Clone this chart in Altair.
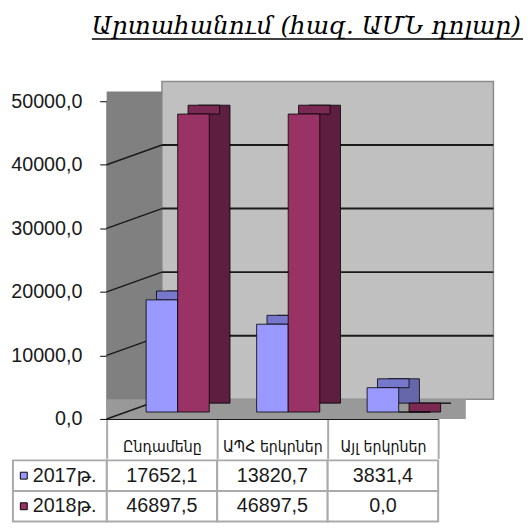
import altair as alt
import pandas as pd

# ---------------- data ----------------
title_text = "Արտահանում (հազ. ԱՄՆ դոլար)"
categories = ["Ընդամենը", "ԱՊՀ երկրներ", "Այլ երկրներ"]
series = ["2017թ.", "2018թ."]
values_2017 = [17652.1, 13820.7, 3831.4]
values_2018 = [46897.5, 46897.5, 0.0]
y_ticks = [0, 10000, 20000, 30000, 40000, 50000]

front_colors = ["#9999ff", "#993366"]
side_colors = ["#6666aa", "#5e1e40"]
top_colors = ["#7777cc", "#7a2952"]

rows = []
for s, vals in zip(series, [values_2017, values_2018]):
    for c, v in zip(categories, vals):
        rows.append({"cat": c, "series": s, "value": v,
                     "label": f"{v:.1f}".replace(".", ",")})
df = pd.DataFrame(rows)
ticks_df = pd.DataFrame({"v": y_ticks})
one = pd.DataFrame({"k": [0]})
series_df = pd.DataFrame({"series": series})

W, H = 336, 322
WALL_DX, WALL_DY = 56, 20
BAR_W = 32
BAR_DX, BAR_DY = 21, 9
BASE_DX, BASE_DY = 0, -7

LABEL_FONT = "Liberation Sans, DejaVu Sans"

y_scale = alt.Scale(domain=[0, 50000], nice=False, zero=True)
y_axis = alt.Axis(values=y_ticks,
                  labelExpr="replace(format(datum.value, '.1f'), '.', ',')",
                  title=None, grid=False, domainColor="black", domainWidth=1,
                  tickColor="black", tickSize=7, labelPadding=18,
                  labelFont=LABEL_FONT, labelFontSize=20, labelColor="#1a1a1a")
x_scale = alt.Scale(domain=categories, paddingInner=0, paddingOuter=0)
x_axis = alt.Axis(title=None, orient="bottom", labelAngle=0,
                  labelFont="DejaVu Sans Condensed, DejaVu Sans", labelFontSize=16,
                  labelColor="#111111",
                  labelPadding=-20, tickBand="extent", tickSize=40,
                  tickColor="#aaaaaa", tickWidth=2, domainColor="black",
                  domainWidth=1, labelLimit=200)

def yq(field):
    return alt.Y(field, type="quantitative", scale=y_scale, axis=y_axis)

# ---------------- 3D-like walls ----------------
back_wall = alt.Chart(one).mark_rect(fill="#c0c0c0", stroke="#8c8c8c", strokeWidth=1.5).encode(
    x=alt.value(WALL_DX), x2=alt.value(W + WALL_DX),
    y=alt.value(-WALL_DY), y2=alt.value(H - WALL_DY))
side_wall = alt.Chart(one).mark_rect(fill="#808080").encode(
    x=alt.value(0), x2=alt.value(WALL_DX),
    y=alt.value(-WALL_DY / 2), y2=alt.value(H - WALL_DY / 2))
floor = alt.Chart(one).mark_rect(fill="#999999").encode(
    x=alt.value(0), x2=alt.value(W + WALL_DX / 2),
    y=alt.value(H - WALL_DY), y2=alt.value(H))

grid_back = alt.Chart(ticks_df).transform_filter(
    (alt.datum.v > 0) & (alt.datum.v < 50000)
).mark_rule(color="#1a1a1a", strokeWidth=2, yOffset=-WALL_DY).encode(
    y=yq("v"), x=alt.value(WALL_DX), x2=alt.value(W + WALL_DX))
grid_side = alt.Chart(ticks_df).transform_filter(
    alt.datum.v < 50000
).mark_rule(color="#1a1a1a", strokeWidth=1.5, y2Offset=-WALL_DY).encode(
    y=yq("v"), y2=alt.Y2("v"), x=alt.value(0), x2=alt.value(WALL_DX))

# ---------------- bars ----------------
bar_layers = []
for i, s in enumerate(series):
    off = BASE_DX + i * BAR_W
    base = alt.Chart(df).transform_filter(alt.datum.series == s)
    xenc = alt.X("cat:N", sort=categories, scale=x_scale, axis=x_axis)
    side = base.mark_bar(width=BAR_W, xOffset=off + BAR_DX,
                         yOffset=BASE_DY - BAR_DY, y2Offset=BASE_DY - BAR_DY,
                         fill=side_colors[i], stroke="black", strokeWidth=0.8).encode(
        x=xenc, y=yq("value"))
    top = base.mark_tick(thickness=BAR_DY, size=BAR_W, xOffset=off + BAR_DX / 2,
                         yOffset=BASE_DY - BAR_DY / 2, color=top_colors[i],
                         stroke="black", strokeWidth=0.8, opacity=1).encode(
        x=xenc, y=yq("value"))
    front = base.mark_bar(width=BAR_W, xOffset=off, yOffset=BASE_DY, y2Offset=BASE_DY,
                          fill=front_colors[i], stroke="black", strokeWidth=0.8).encode(
        x=xenc, y=yq("value"))
    bar_layers += [side, top, front]

# ---------------- title ----------------
title = alt.Chart(one).mark_text(text=title_text, font="DejaVu Serif", fontStyle="italic",
                                 fontSize=25, align="left", baseline="alphabetic",
                                 color="black").encode(x=alt.value(-15), y=alt.value(-68))
underline = alt.Chart(one).mark_rule(color="black", strokeWidth=1.5).encode(
    x=alt.value(-15), x2=alt.value(422), y=alt.value(-63))

top_chart = alt.layer(back_wall, side_wall, floor, grid_back, grid_side,
                      *bar_layers, title, underline).properties(width=W, height=H)

# ---------------- data table ----------------
x_tab = alt.X("cat:N", sort=categories, scale=x_scale, axis=None)
y_tab = alt.Y("series:N", sort=series, scale=alt.Scale(domain=series, paddingInner=0, paddingOuter=0), axis=None)

cells = alt.Chart(df).mark_rect(fill="white", stroke="#aaaaaa", strokeWidth=2).encode(x=x_tab, y=y_tab)
cell_text = alt.Chart(df).mark_text(font=LABEL_FONT, fontSize=20, color="#1a1a1a").encode(
    x=x_tab, y=y_tab, text="label:N")
hdr_cells = alt.Chart(series_df).mark_rect(fill="white", stroke="#aaaaaa", strokeWidth=2).encode(
    x=alt.value(-95), x2=alt.value(0), y=y_tab)
swatch = alt.Chart(series_df).mark_square(size=49, filled=True, stroke="black", strokeWidth=1, opacity=1).encode(
    x=alt.value(-84), y=y_tab,
    fill=alt.Fill("series:N", scale=alt.Scale(domain=series, range=front_colors), legend=None))
hdr_text = alt.Chart(series_df).mark_text(font=LABEL_FONT, fontSize=20, align="left", color="#1a1a1a").encode(
    x=alt.value(-75), y=y_tab, text="series:N")

table = alt.layer(cells, cell_text, hdr_cells, swatch, hdr_text).properties(width=W, height=62)

chart = alt.vconcat(top_chart, table, spacing=0).properties(
    padding={"left": 2, "top": 3, "right": 0, "bottom": 0}
).configure_view(stroke=None)

chart.save("out.html", embed_options={"renderer": "svg", "actions": False})
